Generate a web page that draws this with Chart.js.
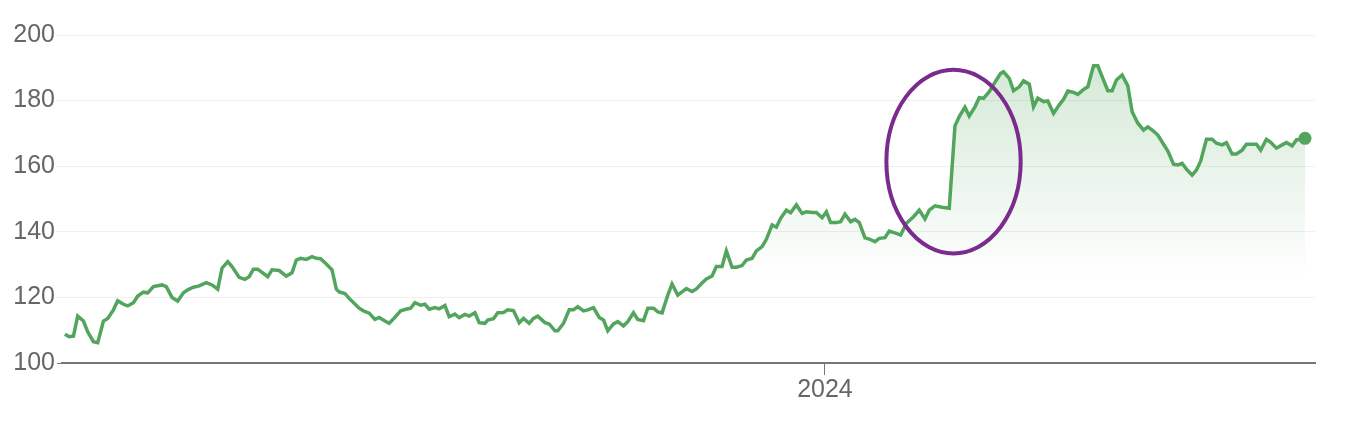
<!DOCTYPE html>
<html>
<head>
<meta charset="utf-8">
<script src="https://cdn.jsdelivr.net/npm/chart.js@4.4.1/dist/chart.umd.min.js"></script>
<style>
    html, body { margin: 0; padding: 0; background: #fff; }
    #wrap { width: 1352px; height: 422px; position: relative; }
</style>
</head>
<body>
<div id="wrap"><canvas id="price-chart"></canvas></div>
<script>
// days relative to 2024-01-01
const days = [
    -532, -529, -526, -523, -519, -516, -512, -509, -505, -502, -498, -495, -491, -488, -484, -481, -477, -474, -470, -464,
    -461, -457, -453, -449, -446, -442, -438, -433, -429, -425, -422, -418, -415, -410, -406, -403, -400, -397, -390, -387,
    -382, -377, -373, -370, -367, -363, -359, -356, -353, -349, -345, -342, -340, -336, -333, -329, -326, -323, -319, -315,
    -312, -308, -305, -301, -297, -294, -290, -287, -283, -280, -277, -273, -270, -266, -263, -259, -256, -252, -249, -245,
    -242, -238, -236, -232, -229, -225, -222, -218, -214, -211, -207, -204, -201, -196, -193, -189, -187, -183, -179, -176,
    -173, -169, -166, -162, -158, -155, -152, -148, -145, -141, -138, -134, -131, -127, -124, -120, -117, -114, -110, -107,
    -103, -100, -97, -93, -90, -86, -83, -79, -76, -72, -69, -65, -62, -58, -55, -51, -48, -44, -41, -37,
    -34, -31, -27, -24, -20, -16, -13, -9, -6, -2, 1, 4, 8, 11, 14, 18, 21, 24, 28, 31,
    35, 38, 42, 45, 50, 53, 57, 62, 66, 70, 73, 77, 82, 87, 91, 94, 98, 101, 105, 108,
    111, 115, 120, 123, 125, 129, 132, 136, 139, 143, 146, 149, 153, 156, 160, 164, 167, 170, 174, 177,
    181, 184, 188, 191, 194, 198, 201, 204, 208, 212, 215, 219, 223, 226, 230, 233, 237, 240, 244, 247,
    250, 253, 257, 260, 263, 267, 271, 274, 278, 281, 285, 288, 292, 295, 299, 302, 305, 309, 312, 316,
    320, 323, 327, 330, 336
];
const prices = [
    108.8, 108.0, 108.2, 114.3, 112.8, 109.5, 106.5, 106.2, 112.8, 113.6, 116.2, 119.0, 117.9, 117.4, 118.4, 120.4, 121.6, 121.4, 123.3, 123.8,
    123.3, 120.0, 118.9, 121.4, 122.3, 123.1, 123.5, 124.5, 123.8, 122.5, 128.9, 130.9, 129.4, 126.1, 125.5, 126.3, 128.6, 128.6, 126.3, 128.4,
    128.2, 126.5, 127.5, 131.4, 131.9, 131.6, 132.4, 131.9, 131.8, 130.2, 128.4, 122.5, 121.7, 121.2, 119.7, 118.0, 116.7, 115.9, 115.2, 113.3,
    113.9, 112.8, 112.1, 113.9, 115.9, 116.3, 116.7, 118.4, 117.6, 117.9, 116.4, 116.9, 116.5, 117.5, 114.1, 114.9, 113.8, 114.8, 114.3, 115.3,
    112.3, 112.1, 113.1, 113.5, 115.3, 115.4, 116.2, 116.0, 112.3, 113.6, 112.1, 113.6, 114.3, 112.3, 111.9, 109.8, 109.8, 112.1, 116.2, 116.2,
    117.2, 115.9, 116.2, 116.9, 113.9, 113.1, 109.8, 111.9, 112.6, 111.3, 112.6, 115.3, 113.3, 112.9, 116.7, 116.7, 115.6, 115.3, 120.7, 124.1,
    120.7, 121.7, 122.7, 121.8, 122.6, 124.4, 125.6, 126.5, 129.4, 129.4, 134.2, 129.2, 129.2, 129.7, 131.4, 131.9, 134.2, 135.5, 137.7, 142.1,
    141.4, 144.1, 146.6, 145.8, 148.2, 145.6, 146.1, 145.9, 145.9, 144.3, 146.1, 142.8, 142.8, 143.1, 145.4, 143.1, 143.8, 142.8, 138.2, 137.8,
    137.0, 138.0, 138.2, 140.2, 139.5, 139.0, 142.6, 144.6, 146.6, 143.9, 146.6, 147.9, 147.5, 147.2, 172.3, 175.1, 178.0, 175.3, 178.1, 180.9,
    180.7, 182.7, 186.3, 188.3, 188.8, 186.8, 183.0, 184.2, 186.0, 185.0, 178.1, 180.7, 179.7, 179.9, 176.1, 178.7, 180.4, 182.9, 182.5, 181.9,
    183.4, 184.2, 190.6, 190.6, 187.3, 183.0, 183.0, 186.3, 187.8, 184.5, 176.6, 173.1, 171.0, 172.0, 170.7, 169.5, 166.7, 164.6, 160.6, 160.4,
    160.9, 159.1, 157.3, 158.8, 161.6, 168.2, 168.2, 167.0, 166.5, 167.2, 163.7, 163.7, 164.9, 166.7, 166.7, 166.7, 164.9, 168.2, 167.3, 165.5,
    166.5, 167.2, 166.2, 168.0, 168.5
];
const xTickValues = [0];
const xTickLabels = ['2024'];
const yTicks = [100, 120, 140, 160, 180, 200];
// highlighted region: centre day / price and radii
const markCenter = [90, 161.4];
const markRadius = [47, 28];

const lineColor = '#52a55c';
const fontFamily = '"Liberation Sans", Arial, Helvetica, sans-serif';

const ellipsePlugin = {
    id: 'ellipseMark',
    afterDatasetsDraw(chart) {
        const { ctx, scales: { x, y } } = chart;
        const cx = x.getPixelForValue(markCenter[0]);
        const cy = y.getPixelForValue(markCenter[1]);
        const rx = x.getPixelForValue(markCenter[0] + markRadius[0]) - cx;
        const ry = cy - y.getPixelForValue(markCenter[1] + markRadius[1]);
        ctx.save();
        ctx.beginPath();
        ctx.ellipse(cx, cy, rx, ry, 0, 0, Math.PI * 2);
        ctx.strokeStyle = '#7b2a8e';
        ctx.lineWidth = 4;
        ctx.stroke();
        ctx.restore();
    }
};

const canvasEl = document.getElementById('price-chart');
const ctx = canvasEl.getContext('2d');

const priceChart = new Chart(ctx, {
    type: 'line',
    data: {
        datasets: [{
            data: days.map((d, i) => ({ x: d, y: prices[i] })),
            borderColor: lineColor,
            borderWidth: 3.5,
            tension: 0,
            fill: 'start',
            backgroundColor: (c) => {
                const area = c.chart.chartArea;
                if (!area) return 'rgba(82,165,92,0.15)';
                const yScale = c.chart.scales.y;
                const g = c.chart.ctx.createLinearGradient(0, area.top, 0, yScale.getPixelForValue(125));
                g.addColorStop(0, 'rgba(82,165,92,0.28)');
                g.addColorStop(1, 'rgba(82,165,92,0)');
                return g;
            },
            pointRadius: (c) => c.dataIndex === prices.length - 1 ? 6.5 : 0,
            pointBackgroundColor: lineColor,
            pointBorderWidth: 0,
            pointHoverRadius: 0
        }]
    },
    options: {
        responsive: true,
        maintainAspectRatio: false,
        animation: false,
        layout: {
            padding: { top: 35, right: 37, bottom: 0, left: 0 }
        },
        plugins: {
            legend: { display: false },
            tooltip: { enabled: false }
        },
        scales: {
            x: {
                type: 'linear',
                min: -534,
                max: 343,
                afterBuildTicks: (axis) => {
                    axis.ticks = xTickValues.map(v => ({ value: v }));
                },
                afterFit: (axis) => { axis.height = 59; },
                ticks: {
                    callback: (value) => {
                        const i = xTickValues.indexOf(value);
                        return i >= 0 ? xTickLabels[i] : '';
                    },
                    color: '#666',
                    font: { family: fontFamily, size: 25 },
                    padding: 0,
                    maxRotation: 0
                },
                grid: {
                    drawOnChartArea: false,
                    tickLength: 12,
                    color: '#777',
                    lineWidth: 1
                },
                border: {
                    color: '#777',
                    width: 2
                }
            },
            y: {
                min: 100,
                max: 200,
                afterBuildTicks: (axis) => {
                    axis.ticks = yTicks.map(v => ({ value: v }));
                },
                afterFit: (axis) => { axis.width = 62; },
                ticks: {
                    color: '#666',
                    font: { family: fontFamily, size: 25 },
                    padding: 2
                },
                grid: {
                    tickLength: 5,
                    color: (c) => c.tick && c.tick.value === 100 ? '#777' : '#efefef',
                    lineWidth: 1
                },
                border: { display: false }
            }
        }
    },
    plugins: [ellipsePlugin]
});
</script>
</body>
</html>
